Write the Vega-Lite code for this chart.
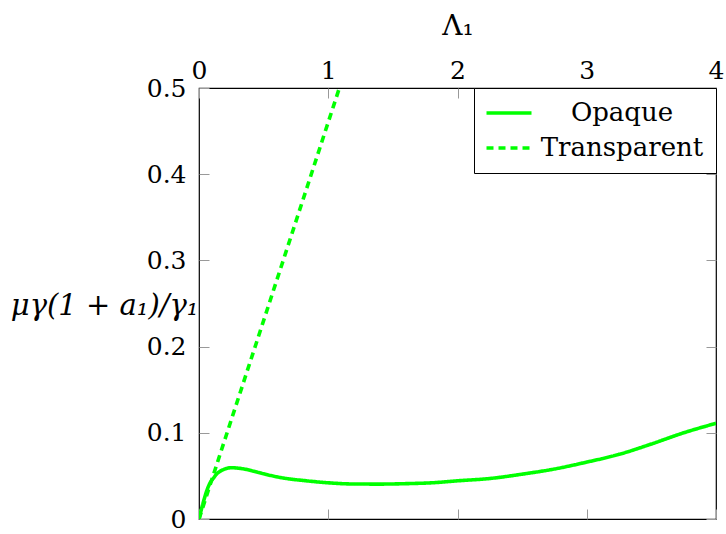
{
  "$schema": "https://vega.github.io/schema/vega-lite/v6.json",
  "width": 517,
  "height": 431,
  "autosize": "none",
  "padding": {"left": 199, "top": 88, "right": 9, "bottom": 15},
  "background": "white",
  "config": {
    "font": "DejaVu Serif",
    "view": {"stroke": "black", "strokeWidth": 1.2},
    "axis": {
      "grid": false,
      "domain": false,
      "tickColor": "#999999",
      "tickWidth": 1,
      "tickSize": -10,
      "labelFont": "DejaVu Serif",
      "labelFontSize": 25,
      "labelColor": "black",
      "titleFont": "DejaVu Serif",
      "titleFontSize": 28,
      "titleFontWeight": "normal",
      "titleColor": "black"
    }
  },
  "data": {
    "values": [
      {"L": 0, "v": 0, "s": "Opaque"},
      {"L": 0.02, "v": 0.012, "s": "Opaque"},
      {"L": 0.04, "v": 0.023, "s": "Opaque"},
      {"L": 0.067, "v": 0.0356, "s": "Opaque"},
      {"L": 0.09, "v": 0.043, "s": "Opaque"},
      {"L": 0.11, "v": 0.047, "s": "Opaque"},
      {"L": 0.135, "v": 0.052, "s": "Opaque"},
      {"L": 0.16, "v": 0.055, "s": "Opaque"},
      {"L": 0.2, "v": 0.058, "s": "Opaque"},
      {"L": 0.25, "v": 0.0595, "s": "Opaque"},
      {"L": 0.3, "v": 0.059, "s": "Opaque"},
      {"L": 0.36, "v": 0.0577, "s": "Opaque"},
      {"L": 0.42, "v": 0.0555, "s": "Opaque"},
      {"L": 0.5, "v": 0.0525, "s": "Opaque"},
      {"L": 0.6, "v": 0.049, "s": "Opaque"},
      {"L": 0.7, "v": 0.0465, "s": "Opaque"},
      {"L": 0.8, "v": 0.0448, "s": "Opaque"},
      {"L": 1.0, "v": 0.042, "s": "Opaque"},
      {"L": 1.2, "v": 0.0406, "s": "Opaque"},
      {"L": 1.4, "v": 0.0405, "s": "Opaque"},
      {"L": 1.6, "v": 0.041, "s": "Opaque"},
      {"L": 1.8, "v": 0.042, "s": "Opaque"},
      {"L": 2.0, "v": 0.0443, "s": "Opaque"},
      {"L": 2.25, "v": 0.047, "s": "Opaque"},
      {"L": 2.5, "v": 0.052, "s": "Opaque"},
      {"L": 2.75, "v": 0.058, "s": "Opaque"},
      {"L": 3.0, "v": 0.066, "s": "Opaque"},
      {"L": 3.25, "v": 0.075, "s": "Opaque"},
      {"L": 3.5, "v": 0.087, "s": "Opaque"},
      {"L": 3.75, "v": 0.1, "s": "Opaque"},
      {"L": 4.0, "v": 0.111, "s": "Opaque"},
      {"L": 0, "v": 0, "s": "Transparent"},
      {"L": 1.086, "v": 0.5, "s": "Transparent"}
    ]
  },
  "layer": [
    {
      "mark": {"type": "line", "stroke": "#00ff00", "strokeWidth": 3.6, "clip": true, "interpolate": "monotone"},
      "encoding": {
        "x": {
          "field": "L", "type": "quantitative",
          "scale": {"domain": [0, 4], "nice": false, "zero": false},
          "axis": {"orient": "top", "title": "Λ₁", "values": [0, 1, 2, 3, 4], "labelPadding": 15, "titlePadding": 18, "labelFlush": false}
        },
        "y": {
          "field": "v", "type": "quantitative",
          "scale": {"domain": [0, 0.5], "nice": false},
          "axis": {
            "orient": "left", "title": "μγ(1 + a₁)/γ₁", "values": [0, 0.1, 0.2, 0.3, 0.4, 0.5],
            "format": "~g", "labelPadding": 23, "labelFlush": false,
            "titleAngle": 0, "titleAlign": "right", "titleBaseline": "middle",
            "titleX": -1, "titleY": 217, "titleFontStyle": "italic", "titleFontSize": 29
          }
        },
        "strokeDash": {
          "field": "s", "type": "nominal",
          "scale": {"domain": ["Opaque", "Transparent"], "range": [[1, 0], [7, 5]]},
          "legend": {
            "title": null, "orient": "top-right", "offset": 0,
            "strokeColor": "black", "fillColor": "white", "padding": 12,
            "symbolType": "M-5,0H5", "symbolSize": 81, "symbolStrokeWidth": 3.6,
            "symbolStrokeColor": "#00ff00", "symbolFillColor": "transparent", "symbolOffset": 10,
            "labelFont": "DejaVu Serif", "labelFontSize": 26, "labelColor": "black",
            "labelAlign": "center", "labelOffset": 100, "rowPadding": 9, "labelLimit": 400
          }
        }
      }
    },
    {
      "mark": {"type": "point", "opacity": 0},
      "encoding": {
        "x": {"field": "L", "type": "quantitative", "axis": {"orient": "bottom", "title": null, "labels": false, "values": [0, 1, 2, 3, 4]}},
        "y": {"field": "v", "type": "quantitative", "axis": {"orient": "right", "title": null, "labels": false, "values": [0, 0.1, 0.2, 0.3, 0.4, 0.5]}}
      }
    }
  ],
  "resolve": {"axis": {"x": "independent", "y": "independent"}}
}
